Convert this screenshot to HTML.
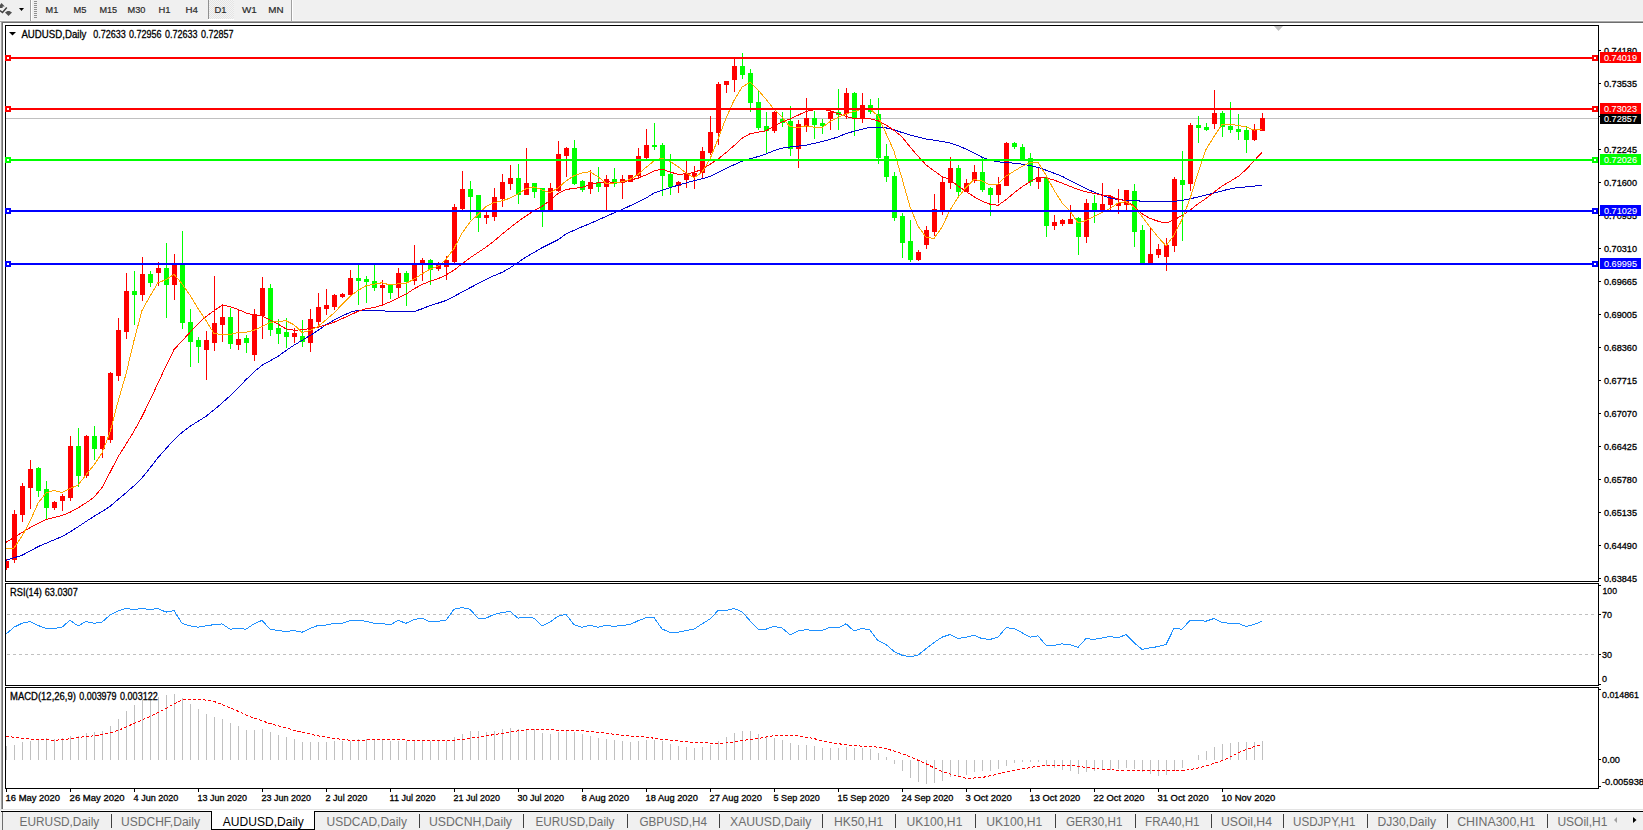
<!DOCTYPE html>
<html><head><meta charset="utf-8"><title>AUDUSD,Daily</title>
<style>
html,body{margin:0;padding:0;background:#fff;width:1643px;height:830px;overflow:hidden;}
svg{display:block;font-family:"Liberation Sans", sans-serif;}
</style></head><body>
<svg width="1643" height="830" viewBox="0 0 1643 830">
<rect x="0" y="0" width="1643" height="830" fill="#ffffff"/>
<rect x="0" y="0" width="1643" height="20" fill="#f0f0f0"/>
<rect x="0" y="20" width="1643" height="1" fill="#f8f8f8"/>
<rect x="0" y="21" width="1643" height="1" fill="#a8a8a8"/>
<rect x="0" y="22" width="1643" height="1" fill="#6e6e6e"/>
<rect x="0" y="22" width="2" height="790" fill="#f0f0f0"/>
<rect x="1" y="22" width="1" height="788" fill="#a0a0a0"/>
<rect x="2" y="22" width="1" height="788" fill="#6e6e6e"/>
<path d="M0 5 L1.5 2.9 L4.8 6.4 L2.6 6.4 L2.6 8 L0 8 Z" fill="#505050"/>
<path d="M0 10.5 L2.5 12.5 L6.8 7.5" stroke="#404040" stroke-width="1.5" fill="none"/>
<path d="M7.5 11 L9.5 11 L12 12.5 L8.5 16 L5 12.5 Z" fill="#505050"/>
<path d="M19 8 L24 8 L21.5 11 Z" fill="#000"/>
<rect x="30" y="0" width="1" height="21" fill="#a0a0a0"/>
<rect x="31" y="0" width="1" height="21" fill="#ffffff"/>
<rect x="34" y="1" width="3" height="1" fill="#909090"/>
<rect x="34" y="3" width="3" height="1" fill="#909090"/>
<rect x="34" y="5" width="3" height="1" fill="#909090"/>
<rect x="34" y="7" width="3" height="1" fill="#909090"/>
<rect x="34" y="9" width="3" height="1" fill="#909090"/>
<rect x="34" y="11" width="3" height="1" fill="#909090"/>
<rect x="34" y="13" width="3" height="1" fill="#909090"/>
<rect x="34" y="15" width="3" height="1" fill="#909090"/>
<rect x="34" y="17" width="3" height="1" fill="#909090"/>
<defs><pattern id="chk" width="2" height="2" patternUnits="userSpaceOnUse"><rect width="2" height="2" fill="#f4f4f4"/><rect width="1" height="1" fill="#e4e4e4"/><rect x="1" y="1" width="1" height="1" fill="#e4e4e4"/></pattern></defs>
<rect x="209" y="0" width="25" height="19" fill="url(#chk)"/>
<rect x="208" y="0" width="1" height="19" fill="#909090"/>
<rect x="208" y="19" width="26" height="1" fill="#ffffff"/>
<rect x="291" y="0" width="1" height="21" fill="#a0a0a0"/>
<rect x="292" y="0" width="1" height="21" fill="#ffffff"/>
<text x="45.6" y="13" font-size="9.4" fill="#2a2a2a" stroke="#2a2a2a" stroke-width="0.2" textLength="12.7" lengthAdjust="spacingAndGlyphs" >M1</text>
<text x="73.5" y="13" font-size="9.4" fill="#2a2a2a" stroke="#2a2a2a" stroke-width="0.2" textLength="12.9" lengthAdjust="spacingAndGlyphs" >M5</text>
<text x="99.4" y="13" font-size="9.4" fill="#2a2a2a" stroke="#2a2a2a" stroke-width="0.2" textLength="17.7" lengthAdjust="spacingAndGlyphs" >M15</text>
<text x="127.5" y="13" font-size="9.4" fill="#2a2a2a" stroke="#2a2a2a" stroke-width="0.2" textLength="17.9" lengthAdjust="spacingAndGlyphs" >M30</text>
<text x="158.5" y="13" font-size="9.4" fill="#2a2a2a" stroke="#2a2a2a" stroke-width="0.2" textLength="12" lengthAdjust="spacingAndGlyphs" >H1</text>
<text x="185.6" y="13" font-size="9.4" fill="#2a2a2a" stroke="#2a2a2a" stroke-width="0.2" textLength="12.4" lengthAdjust="spacingAndGlyphs" >H4</text>
<text x="214.4" y="13" font-size="9.4" fill="#2a2a2a" stroke="#2a2a2a" stroke-width="0.2" textLength="12" lengthAdjust="spacingAndGlyphs" >D1</text>
<text x="242" y="13" font-size="9.4" fill="#2a2a2a" stroke="#2a2a2a" stroke-width="0.2" textLength="14.8" lengthAdjust="spacingAndGlyphs" >W1</text>
<text x="268.3" y="13" font-size="9.4" fill="#2a2a2a" stroke="#2a2a2a" stroke-width="0.2" textLength="15.3" lengthAdjust="spacingAndGlyphs" >MN</text>
<rect x="5" y="25" width="1594" height="1" fill="#000000"/>
<rect x="5" y="25" width="1" height="557" fill="#000000"/>
<rect x="1598" y="25" width="1" height="557" fill="#000000"/>
<rect x="5" y="581" width="1594" height="1" fill="#000000"/>
<rect x="5" y="583" width="1594" height="1" fill="#000000"/>
<rect x="5" y="583" width="1" height="103" fill="#000000"/>
<rect x="1598" y="583" width="1" height="103" fill="#000000"/>
<rect x="5" y="685" width="1594" height="1" fill="#000000"/>
<rect x="5" y="687" width="1594" height="1" fill="#000000"/>
<rect x="5" y="687" width="1" height="102" fill="#000000"/>
<rect x="1598" y="687" width="1" height="102" fill="#000000"/>
<rect x="5" y="788" width="1594" height="1" fill="#000000"/>
<path d="M1274 26 L1283 26 L1278.5 31 Z" fill="#c0c0c0"/>
<rect x="6" y="118" width="1592" height="1" fill="#c0c0c0"/>
<g shape-rendering="crispEdges">
<rect x="6" y="559" width="1" height="11" fill="#ff0000"/>
<rect x="6" y="561" width="3" height="7" fill="#ff0000"/>
<rect x="14" y="510" width="1" height="53" fill="#ff0000"/>
<rect x="12" y="514" width="5" height="46" fill="#ff0000"/>
<rect x="22" y="483" width="1" height="39" fill="#ff0000"/>
<rect x="20" y="486" width="5" height="29" fill="#ff0000"/>
<rect x="30" y="460" width="1" height="49" fill="#ff0000"/>
<rect x="28" y="469" width="5" height="19" fill="#ff0000"/>
<rect x="38" y="467" width="1" height="30" fill="#00ff00"/>
<rect x="36" y="468" width="5" height="23" fill="#00ff00"/>
<rect x="46" y="481" width="1" height="38" fill="#00ff00"/>
<rect x="44" y="489" width="5" height="19" fill="#00ff00"/>
<rect x="54" y="501" width="1" height="9" fill="#ff0000"/>
<rect x="52" y="502" width="5" height="6" fill="#ff0000"/>
<rect x="62" y="494" width="1" height="17" fill="#ff0000"/>
<rect x="60" y="496" width="5" height="5" fill="#ff0000"/>
<rect x="70" y="436" width="1" height="65" fill="#ff0000"/>
<rect x="68" y="446" width="5" height="52" fill="#ff0000"/>
<rect x="78" y="428" width="1" height="59" fill="#00ff00"/>
<rect x="76" y="446" width="5" height="30" fill="#00ff00"/>
<rect x="86" y="435" width="1" height="43" fill="#ff0000"/>
<rect x="84" y="436" width="5" height="40" fill="#ff0000"/>
<rect x="94" y="426" width="1" height="34" fill="#00ff00"/>
<rect x="92" y="436" width="5" height="13" fill="#00ff00"/>
<rect x="102" y="436" width="1" height="22" fill="#ff0000"/>
<rect x="100" y="436" width="5" height="13" fill="#ff0000"/>
<rect x="110" y="372" width="1" height="71" fill="#ff0000"/>
<rect x="108" y="373" width="5" height="67" fill="#ff0000"/>
<rect x="118" y="318" width="1" height="63" fill="#ff0000"/>
<rect x="116" y="330" width="5" height="46" fill="#ff0000"/>
<rect x="126" y="273" width="1" height="66" fill="#ff0000"/>
<rect x="124" y="291" width="5" height="41" fill="#ff0000"/>
<rect x="134" y="271" width="1" height="54" fill="#00ff00"/>
<rect x="132" y="291" width="5" height="4" fill="#00ff00"/>
<rect x="142" y="257" width="1" height="44" fill="#ff0000"/>
<rect x="140" y="274" width="5" height="21" fill="#ff0000"/>
<rect x="150" y="271" width="1" height="16" fill="#00ff00"/>
<rect x="148" y="274" width="5" height="9" fill="#00ff00"/>
<rect x="158" y="262" width="1" height="24" fill="#ff0000"/>
<rect x="156" y="268" width="5" height="5" fill="#ff0000"/>
<rect x="166" y="243" width="1" height="75" fill="#00ff00"/>
<rect x="164" y="268" width="5" height="17" fill="#00ff00"/>
<rect x="174" y="254" width="1" height="46" fill="#ff0000"/>
<rect x="172" y="265" width="5" height="20" fill="#ff0000"/>
<rect x="182" y="231" width="1" height="98" fill="#00ff00"/>
<rect x="180" y="265" width="5" height="58" fill="#00ff00"/>
<rect x="190" y="309" width="1" height="58" fill="#00ff00"/>
<rect x="188" y="322" width="5" height="20" fill="#00ff00"/>
<rect x="198" y="337" width="1" height="26" fill="#00ff00"/>
<rect x="196" y="340" width="5" height="7" fill="#00ff00"/>
<rect x="206" y="331" width="1" height="49" fill="#ff0000"/>
<rect x="204" y="340" width="5" height="10" fill="#ff0000"/>
<rect x="214" y="276" width="1" height="75" fill="#ff0000"/>
<rect x="212" y="323" width="5" height="20" fill="#ff0000"/>
<rect x="222" y="304" width="1" height="38" fill="#ff0000"/>
<rect x="220" y="317" width="5" height="8" fill="#ff0000"/>
<rect x="230" y="308" width="1" height="41" fill="#00ff00"/>
<rect x="228" y="317" width="5" height="27" fill="#00ff00"/>
<rect x="238" y="309" width="1" height="41" fill="#ff0000"/>
<rect x="236" y="339" width="5" height="6" fill="#ff0000"/>
<rect x="246" y="335" width="1" height="18" fill="#00ff00"/>
<rect x="244" y="338" width="5" height="5" fill="#00ff00"/>
<rect x="254" y="309" width="1" height="52" fill="#ff0000"/>
<rect x="252" y="314" width="5" height="41" fill="#ff0000"/>
<rect x="262" y="277" width="1" height="62" fill="#ff0000"/>
<rect x="260" y="288" width="5" height="28" fill="#ff0000"/>
<rect x="270" y="284" width="1" height="52" fill="#00ff00"/>
<rect x="268" y="288" width="5" height="42" fill="#00ff00"/>
<rect x="278" y="319" width="1" height="25" fill="#00ff00"/>
<rect x="276" y="328" width="5" height="6" fill="#00ff00"/>
<rect x="286" y="318" width="1" height="30" fill="#00ff00"/>
<rect x="284" y="332" width="5" height="5" fill="#00ff00"/>
<rect x="294" y="328" width="1" height="15" fill="#ff0000"/>
<rect x="292" y="333" width="5" height="4" fill="#ff0000"/>
<rect x="302" y="320" width="1" height="27" fill="#00ff00"/>
<rect x="300" y="336" width="5" height="6" fill="#00ff00"/>
<rect x="310" y="309" width="1" height="43" fill="#ff0000"/>
<rect x="308" y="319" width="5" height="24" fill="#ff0000"/>
<rect x="318" y="293" width="1" height="35" fill="#ff0000"/>
<rect x="316" y="307" width="5" height="15" fill="#ff0000"/>
<rect x="326" y="289" width="1" height="26" fill="#ff0000"/>
<rect x="324" y="305" width="5" height="4" fill="#ff0000"/>
<rect x="334" y="294" width="1" height="16" fill="#ff0000"/>
<rect x="332" y="295" width="5" height="12" fill="#ff0000"/>
<rect x="342" y="293" width="1" height="5" fill="#ff0000"/>
<rect x="340" y="294" width="5" height="3" fill="#ff0000"/>
<rect x="350" y="270" width="1" height="26" fill="#ff0000"/>
<rect x="348" y="278" width="5" height="17" fill="#ff0000"/>
<rect x="358" y="265" width="1" height="40" fill="#00ff00"/>
<rect x="356" y="278" width="5" height="3" fill="#00ff00"/>
<rect x="366" y="276" width="1" height="27" fill="#00ff00"/>
<rect x="364" y="279" width="5" height="3" fill="#00ff00"/>
<rect x="374" y="265" width="1" height="26" fill="#00ff00"/>
<rect x="372" y="281" width="5" height="7" fill="#00ff00"/>
<rect x="382" y="280" width="1" height="25" fill="#ff0000"/>
<rect x="380" y="285" width="5" height="3" fill="#ff0000"/>
<rect x="390" y="284" width="1" height="15" fill="#00ff00"/>
<rect x="388" y="285" width="5" height="8" fill="#00ff00"/>
<rect x="398" y="268" width="1" height="29" fill="#ff0000"/>
<rect x="396" y="273" width="5" height="15" fill="#ff0000"/>
<rect x="406" y="271" width="1" height="35" fill="#00ff00"/>
<rect x="404" y="273" width="5" height="9" fill="#00ff00"/>
<rect x="414" y="245" width="1" height="40" fill="#ff0000"/>
<rect x="412" y="265" width="5" height="16" fill="#ff0000"/>
<rect x="422" y="258" width="1" height="23" fill="#ff0000"/>
<rect x="420" y="260" width="5" height="5" fill="#ff0000"/>
<rect x="430" y="259" width="1" height="26" fill="#00ff00"/>
<rect x="428" y="260" width="5" height="10" fill="#00ff00"/>
<rect x="438" y="262" width="1" height="9" fill="#ff0000"/>
<rect x="436" y="265" width="5" height="4" fill="#ff0000"/>
<rect x="446" y="256" width="1" height="24" fill="#ff0000"/>
<rect x="444" y="260" width="5" height="7" fill="#ff0000"/>
<rect x="454" y="204" width="1" height="60" fill="#ff0000"/>
<rect x="452" y="207" width="5" height="55" fill="#ff0000"/>
<rect x="462" y="171" width="1" height="39" fill="#ff0000"/>
<rect x="460" y="189" width="5" height="20" fill="#ff0000"/>
<rect x="470" y="181" width="1" height="39" fill="#00ff00"/>
<rect x="468" y="189" width="5" height="8" fill="#00ff00"/>
<rect x="478" y="195" width="1" height="37" fill="#00ff00"/>
<rect x="476" y="195" width="5" height="23" fill="#00ff00"/>
<rect x="486" y="212" width="1" height="12" fill="#ff0000"/>
<rect x="484" y="215" width="5" height="3" fill="#ff0000"/>
<rect x="494" y="188" width="1" height="33" fill="#ff0000"/>
<rect x="492" y="197" width="5" height="20" fill="#ff0000"/>
<rect x="502" y="174" width="1" height="33" fill="#ff0000"/>
<rect x="500" y="182" width="5" height="17" fill="#ff0000"/>
<rect x="510" y="165" width="1" height="25" fill="#ff0000"/>
<rect x="508" y="178" width="5" height="6" fill="#ff0000"/>
<rect x="518" y="164" width="1" height="40" fill="#00ff00"/>
<rect x="516" y="178" width="5" height="17" fill="#00ff00"/>
<rect x="526" y="148" width="1" height="47" fill="#ff0000"/>
<rect x="524" y="183" width="5" height="12" fill="#ff0000"/>
<rect x="534" y="183" width="1" height="15" fill="#00ff00"/>
<rect x="532" y="183" width="5" height="9" fill="#00ff00"/>
<rect x="542" y="188" width="1" height="39" fill="#00ff00"/>
<rect x="540" y="188" width="5" height="23" fill="#00ff00"/>
<rect x="550" y="183" width="1" height="28" fill="#ff0000"/>
<rect x="548" y="188" width="5" height="23" fill="#ff0000"/>
<rect x="558" y="141" width="1" height="51" fill="#ff0000"/>
<rect x="556" y="154" width="5" height="37" fill="#ff0000"/>
<rect x="566" y="147" width="1" height="30" fill="#ff0000"/>
<rect x="564" y="148" width="5" height="8" fill="#ff0000"/>
<rect x="574" y="140" width="1" height="45" fill="#00ff00"/>
<rect x="572" y="148" width="5" height="36" fill="#00ff00"/>
<rect x="582" y="180" width="1" height="12" fill="#00ff00"/>
<rect x="580" y="181" width="5" height="9" fill="#00ff00"/>
<rect x="590" y="170" width="1" height="24" fill="#ff0000"/>
<rect x="588" y="182" width="5" height="7" fill="#ff0000"/>
<rect x="598" y="167" width="1" height="25" fill="#00ff00"/>
<rect x="596" y="182" width="5" height="5" fill="#00ff00"/>
<rect x="606" y="175" width="1" height="35" fill="#ff0000"/>
<rect x="604" y="179" width="5" height="8" fill="#ff0000"/>
<rect x="614" y="168" width="1" height="19" fill="#00ff00"/>
<rect x="612" y="179" width="5" height="5" fill="#00ff00"/>
<rect x="622" y="175" width="1" height="24" fill="#ff0000"/>
<rect x="620" y="179" width="5" height="4" fill="#ff0000"/>
<rect x="630" y="175" width="1" height="7" fill="#ff0000"/>
<rect x="628" y="175" width="5" height="7" fill="#ff0000"/>
<rect x="638" y="148" width="1" height="31" fill="#ff0000"/>
<rect x="636" y="156" width="5" height="20" fill="#ff0000"/>
<rect x="646" y="129" width="1" height="31" fill="#ff0000"/>
<rect x="644" y="145" width="5" height="13" fill="#ff0000"/>
<rect x="654" y="123" width="1" height="27" fill="#00ff00"/>
<rect x="652" y="145" width="5" height="2" fill="#00ff00"/>
<rect x="662" y="143" width="1" height="53" fill="#00ff00"/>
<rect x="660" y="145" width="5" height="31" fill="#00ff00"/>
<rect x="670" y="154" width="1" height="41" fill="#00ff00"/>
<rect x="668" y="174" width="5" height="13" fill="#00ff00"/>
<rect x="678" y="181" width="1" height="12" fill="#ff0000"/>
<rect x="676" y="182" width="5" height="4" fill="#ff0000"/>
<rect x="686" y="161" width="1" height="27" fill="#ff0000"/>
<rect x="684" y="174" width="5" height="6" fill="#ff0000"/>
<rect x="694" y="166" width="1" height="23" fill="#ff0000"/>
<rect x="692" y="173" width="5" height="4" fill="#ff0000"/>
<rect x="702" y="147" width="1" height="31" fill="#ff0000"/>
<rect x="700" y="151" width="5" height="22" fill="#ff0000"/>
<rect x="710" y="116" width="1" height="39" fill="#ff0000"/>
<rect x="708" y="132" width="5" height="21" fill="#ff0000"/>
<rect x="718" y="82" width="1" height="63" fill="#ff0000"/>
<rect x="716" y="84" width="5" height="49" fill="#ff0000"/>
<rect x="726" y="81" width="1" height="12" fill="#ff0000"/>
<rect x="724" y="81" width="5" height="4" fill="#ff0000"/>
<rect x="734" y="59" width="1" height="33" fill="#ff0000"/>
<rect x="732" y="66" width="5" height="14" fill="#ff0000"/>
<rect x="742" y="53" width="1" height="26" fill="#00ff00"/>
<rect x="740" y="66" width="5" height="9" fill="#00ff00"/>
<rect x="750" y="69" width="1" height="43" fill="#00ff00"/>
<rect x="748" y="73" width="5" height="30" fill="#00ff00"/>
<rect x="758" y="91" width="1" height="39" fill="#00ff00"/>
<rect x="756" y="102" width="5" height="26" fill="#00ff00"/>
<rect x="766" y="112" width="1" height="41" fill="#00ff00"/>
<rect x="764" y="126" width="5" height="5" fill="#00ff00"/>
<rect x="774" y="111" width="1" height="22" fill="#ff0000"/>
<rect x="772" y="112" width="5" height="19" fill="#ff0000"/>
<rect x="782" y="112" width="1" height="15" fill="#00ff00"/>
<rect x="780" y="119" width="5" height="4" fill="#00ff00"/>
<rect x="790" y="106" width="1" height="50" fill="#00ff00"/>
<rect x="788" y="121" width="5" height="28" fill="#00ff00"/>
<rect x="798" y="120" width="1" height="48" fill="#ff0000"/>
<rect x="796" y="124" width="5" height="25" fill="#ff0000"/>
<rect x="806" y="98" width="1" height="34" fill="#ff0000"/>
<rect x="804" y="118" width="5" height="8" fill="#ff0000"/>
<rect x="814" y="111" width="1" height="28" fill="#00ff00"/>
<rect x="812" y="118" width="5" height="7" fill="#00ff00"/>
<rect x="822" y="119" width="1" height="15" fill="#00ff00"/>
<rect x="820" y="123" width="5" height="3" fill="#00ff00"/>
<rect x="830" y="110" width="1" height="20" fill="#ff0000"/>
<rect x="828" y="112" width="5" height="7" fill="#ff0000"/>
<rect x="838" y="89" width="1" height="41" fill="#00ff00"/>
<rect x="836" y="112" width="5" height="3" fill="#00ff00"/>
<rect x="846" y="88" width="1" height="31" fill="#ff0000"/>
<rect x="844" y="93" width="5" height="21" fill="#ff0000"/>
<rect x="854" y="92" width="1" height="44" fill="#00ff00"/>
<rect x="852" y="93" width="5" height="26" fill="#00ff00"/>
<rect x="862" y="93" width="1" height="30" fill="#ff0000"/>
<rect x="860" y="105" width="5" height="14" fill="#ff0000"/>
<rect x="870" y="99" width="1" height="15" fill="#00ff00"/>
<rect x="868" y="105" width="5" height="7" fill="#00ff00"/>
<rect x="878" y="98" width="1" height="66" fill="#00ff00"/>
<rect x="876" y="114" width="5" height="44" fill="#00ff00"/>
<rect x="886" y="144" width="1" height="38" fill="#00ff00"/>
<rect x="884" y="156" width="5" height="21" fill="#00ff00"/>
<rect x="894" y="172" width="1" height="49" fill="#00ff00"/>
<rect x="892" y="176" width="5" height="42" fill="#00ff00"/>
<rect x="902" y="213" width="1" height="45" fill="#00ff00"/>
<rect x="900" y="216" width="5" height="27" fill="#00ff00"/>
<rect x="910" y="220" width="1" height="42" fill="#00ff00"/>
<rect x="908" y="241" width="5" height="19" fill="#00ff00"/>
<rect x="918" y="250" width="1" height="11" fill="#ff0000"/>
<rect x="916" y="252" width="5" height="8" fill="#ff0000"/>
<rect x="926" y="226" width="1" height="23" fill="#ff0000"/>
<rect x="924" y="230" width="5" height="15" fill="#ff0000"/>
<rect x="934" y="194" width="1" height="42" fill="#ff0000"/>
<rect x="932" y="209" width="5" height="23" fill="#ff0000"/>
<rect x="942" y="177" width="1" height="38" fill="#ff0000"/>
<rect x="940" y="182" width="5" height="30" fill="#ff0000"/>
<rect x="950" y="157" width="1" height="32" fill="#ff0000"/>
<rect x="948" y="168" width="5" height="15" fill="#ff0000"/>
<rect x="958" y="165" width="1" height="33" fill="#00ff00"/>
<rect x="956" y="168" width="5" height="24" fill="#00ff00"/>
<rect x="966" y="179" width="1" height="13" fill="#ff0000"/>
<rect x="964" y="183" width="5" height="9" fill="#ff0000"/>
<rect x="974" y="165" width="1" height="18" fill="#ff0000"/>
<rect x="972" y="172" width="5" height="9" fill="#ff0000"/>
<rect x="982" y="158" width="1" height="34" fill="#00ff00"/>
<rect x="980" y="172" width="5" height="18" fill="#00ff00"/>
<rect x="990" y="187" width="1" height="29" fill="#00ff00"/>
<rect x="988" y="188" width="5" height="7" fill="#00ff00"/>
<rect x="998" y="177" width="1" height="26" fill="#ff0000"/>
<rect x="996" y="184" width="5" height="11" fill="#ff0000"/>
<rect x="1006" y="142" width="1" height="44" fill="#ff0000"/>
<rect x="1004" y="143" width="5" height="43" fill="#ff0000"/>
<rect x="1014" y="142" width="1" height="7" fill="#00ff00"/>
<rect x="1012" y="143" width="5" height="4" fill="#00ff00"/>
<rect x="1022" y="144" width="1" height="17" fill="#00ff00"/>
<rect x="1020" y="147" width="5" height="13" fill="#00ff00"/>
<rect x="1030" y="153" width="1" height="33" fill="#00ff00"/>
<rect x="1028" y="158" width="5" height="24" fill="#00ff00"/>
<rect x="1038" y="168" width="1" height="21" fill="#ff0000"/>
<rect x="1036" y="177" width="5" height="5" fill="#ff0000"/>
<rect x="1046" y="177" width="1" height="60" fill="#00ff00"/>
<rect x="1044" y="178" width="5" height="48" fill="#00ff00"/>
<rect x="1054" y="215" width="1" height="15" fill="#ff0000"/>
<rect x="1052" y="222" width="5" height="4" fill="#ff0000"/>
<rect x="1062" y="219" width="1" height="7" fill="#ff0000"/>
<rect x="1060" y="220" width="5" height="4" fill="#ff0000"/>
<rect x="1070" y="205" width="1" height="19" fill="#ff0000"/>
<rect x="1068" y="219" width="5" height="5" fill="#ff0000"/>
<rect x="1078" y="217" width="1" height="38" fill="#00ff00"/>
<rect x="1076" y="218" width="5" height="19" fill="#00ff00"/>
<rect x="1086" y="199" width="1" height="44" fill="#ff0000"/>
<rect x="1084" y="203" width="5" height="34" fill="#ff0000"/>
<rect x="1094" y="195" width="1" height="28" fill="#00ff00"/>
<rect x="1092" y="203" width="5" height="8" fill="#00ff00"/>
<rect x="1102" y="183" width="1" height="30" fill="#ff0000"/>
<rect x="1100" y="204" width="5" height="8" fill="#ff0000"/>
<rect x="1110" y="195" width="1" height="15" fill="#ff0000"/>
<rect x="1108" y="196" width="5" height="9" fill="#ff0000"/>
<rect x="1118" y="189" width="1" height="25" fill="#ff0000"/>
<rect x="1116" y="203" width="5" height="3" fill="#ff0000"/>
<rect x="1126" y="190" width="1" height="21" fill="#ff0000"/>
<rect x="1124" y="190" width="5" height="15" fill="#ff0000"/>
<rect x="1134" y="184" width="1" height="63" fill="#00ff00"/>
<rect x="1132" y="191" width="5" height="41" fill="#00ff00"/>
<rect x="1142" y="225" width="1" height="39" fill="#00ff00"/>
<rect x="1140" y="230" width="5" height="33" fill="#00ff00"/>
<rect x="1150" y="227" width="1" height="37" fill="#ff0000"/>
<rect x="1148" y="254" width="5" height="9" fill="#ff0000"/>
<rect x="1158" y="244" width="1" height="14" fill="#ff0000"/>
<rect x="1156" y="249" width="5" height="6" fill="#ff0000"/>
<rect x="1166" y="238" width="1" height="33" fill="#ff0000"/>
<rect x="1164" y="245" width="5" height="12" fill="#ff0000"/>
<rect x="1174" y="177" width="1" height="75" fill="#ff0000"/>
<rect x="1172" y="179" width="5" height="67" fill="#ff0000"/>
<rect x="1182" y="151" width="1" height="90" fill="#00ff00"/>
<rect x="1180" y="180" width="5" height="5" fill="#00ff00"/>
<rect x="1190" y="123" width="1" height="68" fill="#ff0000"/>
<rect x="1188" y="125" width="5" height="59" fill="#ff0000"/>
<rect x="1198" y="116" width="1" height="27" fill="#00ff00"/>
<rect x="1196" y="125" width="5" height="3" fill="#00ff00"/>
<rect x="1206" y="123" width="1" height="8" fill="#00ff00"/>
<rect x="1204" y="127" width="5" height="3" fill="#00ff00"/>
<rect x="1214" y="90" width="1" height="39" fill="#ff0000"/>
<rect x="1212" y="113" width="5" height="11" fill="#ff0000"/>
<rect x="1222" y="111" width="1" height="26" fill="#00ff00"/>
<rect x="1220" y="113" width="5" height="14" fill="#00ff00"/>
<rect x="1230" y="102" width="1" height="31" fill="#00ff00"/>
<rect x="1228" y="126" width="5" height="4" fill="#00ff00"/>
<rect x="1238" y="114" width="1" height="26" fill="#00ff00"/>
<rect x="1236" y="129" width="5" height="3" fill="#00ff00"/>
<rect x="1246" y="126" width="1" height="27" fill="#00ff00"/>
<rect x="1244" y="130" width="5" height="10" fill="#00ff00"/>
<rect x="1254" y="124" width="1" height="17" fill="#ff0000"/>
<rect x="1252" y="129" width="5" height="11" fill="#ff0000"/>
<rect x="1262" y="113" width="1" height="18" fill="#ff0000"/>
<rect x="1260" y="118" width="5" height="13" fill="#ff0000"/>
</g>
<svg x="6" y="26" width="1592" height="555" viewBox="6 26 1592 555" overflow="hidden">
<polyline points="6.0,560.4 14.0,557.8 22.0,555.3 30.0,551.1 38.0,546.7 46.0,543.3 54.0,539.9 62.0,536.5 70.0,532.0 78.0,526.8 86.0,521.5 94.0,516.4 102.0,511.5 110.0,506.5 118.0,499.5 126.0,492.8 134.0,485.8 142.0,477.9 150.0,468.0 158.0,457.6 166.0,448.6 174.0,439.8 182.0,432.4 190.0,426.3 198.0,421.3 206.0,416.3 214.0,409.8 222.0,403.1 230.0,395.9 238.0,387.8 246.0,379.7 254.0,371.9 262.0,365.3 270.0,360.9 278.0,356.3 286.0,350.6 294.0,345.2 302.0,340.4 310.0,335.6 318.0,330.4 326.0,324.7 334.0,320.2 342.0,316.0 350.0,312.4 358.0,310.0 366.0,310.0 374.0,310.0 382.0,310.7 390.0,311.6 398.0,311.6 406.0,311.6 414.0,311.6 422.0,308.8 430.0,305.6 438.0,303.2 446.0,300.5 454.0,296.4 462.0,292.1 470.0,287.8 478.0,283.6 486.0,279.5 494.0,275.7 502.0,272.4 510.0,267.8 518.0,262.5 526.0,257.0 534.0,252.4 542.0,247.8 550.0,243.8 558.0,239.8 566.0,233.9 574.0,230.3 582.0,226.8 590.0,223.6 598.0,220.0 606.0,216.4 614.0,212.9 622.0,209.6 630.0,205.8 638.0,202.1 646.0,198.2 654.0,193.0 662.0,190.3 670.0,187.8 678.0,185.2 686.0,182.9 694.0,180.8 702.0,178.8 710.0,176.4 718.0,172.4 726.0,168.4 734.0,164.8 742.0,161.2 750.0,158.8 758.0,156.6 766.0,153.9 774.0,150.7 782.0,148.2 790.0,147.0 798.0,146.1 806.0,145.3 814.0,143.4 822.0,141.5 830.0,139.4 838.0,136.9 846.0,133.6 854.0,131.3 862.0,129.3 870.0,127.4 878.0,127.1 886.0,127.9 894.0,129.8 902.0,132.5 910.0,135.0 918.0,137.0 926.0,139.0 934.0,140.2 942.0,141.4 950.0,143.1 958.0,145.7 966.0,149.0 974.0,153.0 982.0,157.2 990.0,160.1 998.0,161.8 1006.0,162.7 1014.0,163.1 1022.0,164.1 1030.0,165.6 1038.0,167.4 1046.0,170.2 1054.0,173.2 1062.0,176.3 1070.0,180.4 1078.0,184.5 1086.0,188.5 1094.0,192.1 1102.0,195.2 1110.0,197.9 1118.0,199.7 1126.0,200.2 1134.0,200.6 1142.0,201.2 1150.0,201.7 1158.0,201.8 1166.0,201.9 1174.0,201.3 1182.0,200.4 1190.0,198.8 1198.0,197.0 1206.0,195.0 1214.0,193.0 1222.0,190.9 1230.0,188.9 1238.0,187.5 1246.0,186.9 1254.0,186.1 1262.0,185.2" fill="none" stroke="#0000cd" stroke-width="1" shape-rendering="crispEdges"/>
<polyline points="6.0,542.4 14.0,537.4 22.0,532.4 30.0,527.7 38.0,523.6 46.0,519.5 54.0,517.5 62.0,515.5 70.0,512.3 78.0,507.9 86.0,502.9 94.0,497.3 102.0,487.6 110.0,472.5 118.0,456.9 126.0,444.3 134.0,431.2 142.0,416.6 150.0,400.2 158.0,383.1 166.0,366.0 174.0,349.6 182.0,341.0 190.0,332.3 198.0,323.8 206.0,316.5 214.0,310.8 222.0,305.3 230.0,306.5 238.0,309.4 246.0,312.9 254.0,315.1 262.0,316.0 270.0,319.9 278.0,324.1 286.0,328.9 294.0,330.2 302.0,329.8 310.0,328.6 318.0,327.0 326.0,324.9 334.0,322.2 342.0,318.7 350.0,315.1 358.0,311.3 366.0,308.8 374.0,307.5 382.0,305.2 390.0,301.9 398.0,298.1 406.0,294.2 414.0,288.9 422.0,284.5 430.0,281.3 438.0,278.7 446.0,275.0 454.0,270.1 462.0,263.9 470.0,257.8 478.0,252.5 486.0,247.2 494.0,241.1 502.0,234.2 510.0,227.8 518.0,221.6 526.0,215.9 534.0,210.8 542.0,206.5 550.0,200.5 558.0,193.4 566.0,189.5 574.0,188.4 582.0,187.3 590.0,184.8 598.0,182.7 606.0,181.9 614.0,182.1 622.0,182.0 630.0,180.3 638.0,178.0 646.0,174.9 654.0,170.9 662.0,169.0 670.0,172.1 678.0,174.2 686.0,173.9 694.0,172.4 702.0,169.2 710.0,164.3 718.0,159.1 726.0,152.6 734.0,145.7 742.0,138.3 750.0,133.8 758.0,132.2 766.0,130.8 774.0,126.3 782.0,122.1 790.0,119.0 798.0,115.2 806.0,111.5 814.0,109.9 822.0,109.4 830.0,110.7 838.0,113.7 846.0,116.4 854.0,118.6 862.0,118.5 870.0,118.8 878.0,120.7 886.0,125.0 894.0,130.4 902.0,136.8 910.0,146.9 918.0,156.2 926.0,164.8 934.0,170.8 942.0,176.5 950.0,179.7 958.0,186.0 966.0,191.5 974.0,196.7 982.0,201.2 990.0,204.2 998.0,205.3 1006.0,199.7 1014.0,193.0 1022.0,186.8 1030.0,181.7 1038.0,177.5 1046.0,177.9 1054.0,180.0 1062.0,183.1 1070.0,186.3 1078.0,189.4 1086.0,191.8 1094.0,193.4 1102.0,195.2 1110.0,195.6 1118.0,199.2 1126.0,201.0 1134.0,205.8 1142.0,213.7 1150.0,218.4 1158.0,221.2 1166.0,223.1 1174.0,219.9 1182.0,215.6 1190.0,210.2 1198.0,203.9 1206.0,198.5 1214.0,192.2 1222.0,186.1 1230.0,181.4 1238.0,176.6 1246.0,169.7 1254.0,160.9 1262.0,152.3" fill="none" stroke="#ff0000" stroke-width="1" shape-rendering="crispEdges"/>
<polyline points="6.0,548.0 14.0,548.0 22.0,536.1 30.0,521.4 38.0,503.2 46.0,493.0 54.0,490.5 62.0,492.5 70.0,488.4 78.0,485.2 86.0,474.8 94.0,464.9 102.0,452.9 110.0,432.4 118.0,401.6 126.0,374.1 134.0,340.5 142.0,310.5 150.0,296.2 158.0,282.6 166.0,279.8 174.0,274.3 182.0,283.8 190.0,295.2 198.0,308.5 206.0,320.6 214.0,333.5 222.0,334.6 230.0,334.6 238.0,332.4 246.0,332.2 254.0,330.3 262.0,326.4 270.0,322.5 278.0,321.3 286.0,320.8 294.0,324.8 302.0,332.4 310.0,330.5 318.0,326.3 326.0,319.9 334.0,312.9 342.0,304.6 350.0,296.5 358.0,290.5 366.0,285.8 374.0,284.3 382.0,282.7 390.0,285.0 398.0,283.9 406.0,283.2 414.0,279.2 422.0,273.9 430.0,269.2 438.0,266.2 446.0,259.4 454.0,248.5 462.0,233.1 470.0,222.2 478.0,214.4 486.0,206.7 494.0,202.6 502.0,200.8 510.0,198.2 518.0,193.9 526.0,188.6 534.0,186.9 542.0,189.9 550.0,192.8 558.0,188.0 566.0,180.9 574.0,175.7 582.0,173.0 590.0,171.7 598.0,176.8 606.0,183.3 614.0,183.0 622.0,181.9 630.0,179.3 638.0,174.4 646.0,167.4 654.0,160.9 662.0,158.0 670.0,161.4 678.0,166.6 686.0,173.0 694.0,177.6 702.0,172.3 710.0,159.1 718.0,139.1 726.0,118.2 734.0,100.4 742.0,87.1 750.0,82.2 758.0,90.0 766.0,99.2 774.0,109.2 782.0,117.1 790.0,126.7 798.0,127.6 806.0,125.9 814.0,127.1 822.0,127.6 830.0,121.7 838.0,117.5 846.0,113.9 854.0,111.5 862.0,109.1 870.0,108.5 878.0,116.2 886.0,133.5 894.0,151.2 902.0,178.4 910.0,206.9 918.0,226.0 926.0,237.3 934.0,238.4 942.0,227.3 950.0,210.0 958.0,197.5 966.0,187.4 974.0,179.5 982.0,180.9 990.0,184.9 998.0,184.2 1006.0,176.1 1014.0,171.2 1022.0,166.4 1030.0,162.7 1038.0,162.4 1046.0,175.2 1054.0,190.1 1062.0,202.7 1070.0,210.9 1078.0,223.1 1086.0,220.5 1094.0,216.6 1102.0,212.6 1110.0,208.7 1118.0,202.9 1126.0,201.7 1134.0,206.9 1142.0,216.5 1150.0,227.0 1158.0,237.0 1166.0,245.8 1174.0,235.2 1182.0,219.5 1190.0,198.7 1198.0,172.7 1206.0,149.4 1214.0,136.6 1222.0,124.5 1230.0,124.2 1238.0,125.4 1246.0,127.0 1254.0,130.1 1262.0,129.4" fill="none" stroke="#ffa500" stroke-width="1" shape-rendering="crispEdges"/>
</svg>
<rect x="6" y="57" width="1592" height="2" fill="#ff0000"/>
<rect x="5" y="55" width="6" height="6" fill="#ff0000"/>
<rect x="7" y="57" width="2" height="2" fill="#ffffff"/>
<rect x="1592" y="55" width="6" height="6" fill="#ff0000"/>
<rect x="1594" y="57" width="2" height="2" fill="#ffffff"/>
<rect x="6" y="108" width="1592" height="2" fill="#ff0000"/>
<rect x="5" y="106" width="6" height="6" fill="#ff0000"/>
<rect x="7" y="108" width="2" height="2" fill="#ffffff"/>
<rect x="1592" y="106" width="6" height="6" fill="#ff0000"/>
<rect x="1594" y="108" width="2" height="2" fill="#ffffff"/>
<rect x="6" y="159" width="1592" height="2" fill="#00ff00"/>
<rect x="5" y="157" width="6" height="6" fill="#00ff00"/>
<rect x="7" y="159" width="2" height="2" fill="#ffffff"/>
<rect x="1592" y="157" width="6" height="6" fill="#00ff00"/>
<rect x="1594" y="159" width="2" height="2" fill="#ffffff"/>
<rect x="6" y="210" width="1592" height="2" fill="#0000ff"/>
<rect x="5" y="208" width="6" height="6" fill="#0000ff"/>
<rect x="7" y="210" width="2" height="2" fill="#ffffff"/>
<rect x="1592" y="208" width="6" height="6" fill="#0000ff"/>
<rect x="1594" y="210" width="2" height="2" fill="#ffffff"/>
<rect x="6" y="263" width="1592" height="2" fill="#0000ff"/>
<rect x="5" y="261" width="6" height="6" fill="#0000ff"/>
<rect x="7" y="263" width="2" height="2" fill="#ffffff"/>
<rect x="1592" y="261" width="6" height="6" fill="#0000ff"/>
<rect x="1594" y="263" width="2" height="2" fill="#ffffff"/>
<rect x="1599" y="50" width="2" height="1" fill="#000000"/>
<text x="1604" y="54" font-size="9.8" fill="#000" stroke="#000" stroke-width="0.3" textLength="33" lengthAdjust="spacingAndGlyphs" >0.74180</text>
<rect x="1599" y="83" width="2" height="1" fill="#000000"/>
<text x="1604" y="87" font-size="9.8" fill="#000" stroke="#000" stroke-width="0.3" textLength="33" lengthAdjust="spacingAndGlyphs" >0.73535</text>
<rect x="1599" y="116" width="2" height="1" fill="#000000"/>
<text x="1604" y="120" font-size="9.8" fill="#000" stroke="#000" stroke-width="0.3" textLength="33" lengthAdjust="spacingAndGlyphs" >0.72890</text>
<rect x="1599" y="149" width="2" height="1" fill="#000000"/>
<text x="1604" y="153" font-size="9.8" fill="#000" stroke="#000" stroke-width="0.3" textLength="33" lengthAdjust="spacingAndGlyphs" >0.72245</text>
<rect x="1599" y="182" width="2" height="1" fill="#000000"/>
<text x="1604" y="186" font-size="9.8" fill="#000" stroke="#000" stroke-width="0.3" textLength="33" lengthAdjust="spacingAndGlyphs" >0.71600</text>
<rect x="1599" y="215" width="2" height="1" fill="#000000"/>
<text x="1604" y="219" font-size="9.8" fill="#000" stroke="#000" stroke-width="0.3" textLength="33" lengthAdjust="spacingAndGlyphs" >0.70955</text>
<rect x="1599" y="248" width="2" height="1" fill="#000000"/>
<text x="1604" y="252" font-size="9.8" fill="#000" stroke="#000" stroke-width="0.3" textLength="33" lengthAdjust="spacingAndGlyphs" >0.70310</text>
<rect x="1599" y="281" width="2" height="1" fill="#000000"/>
<text x="1604" y="285" font-size="9.8" fill="#000" stroke="#000" stroke-width="0.3" textLength="33" lengthAdjust="spacingAndGlyphs" >0.69665</text>
<rect x="1599" y="314" width="2" height="1" fill="#000000"/>
<text x="1604" y="318" font-size="9.8" fill="#000" stroke="#000" stroke-width="0.3" textLength="33" lengthAdjust="spacingAndGlyphs" >0.69005</text>
<rect x="1599" y="347" width="2" height="1" fill="#000000"/>
<text x="1604" y="351" font-size="9.8" fill="#000" stroke="#000" stroke-width="0.3" textLength="33" lengthAdjust="spacingAndGlyphs" >0.68360</text>
<rect x="1599" y="380" width="2" height="1" fill="#000000"/>
<text x="1604" y="384" font-size="9.8" fill="#000" stroke="#000" stroke-width="0.3" textLength="33" lengthAdjust="spacingAndGlyphs" >0.67715</text>
<rect x="1599" y="413" width="2" height="1" fill="#000000"/>
<text x="1604" y="417" font-size="9.8" fill="#000" stroke="#000" stroke-width="0.3" textLength="33" lengthAdjust="spacingAndGlyphs" >0.67070</text>
<rect x="1599" y="446" width="2" height="1" fill="#000000"/>
<text x="1604" y="450" font-size="9.8" fill="#000" stroke="#000" stroke-width="0.3" textLength="33" lengthAdjust="spacingAndGlyphs" >0.66425</text>
<rect x="1599" y="479" width="2" height="1" fill="#000000"/>
<text x="1604" y="483" font-size="9.8" fill="#000" stroke="#000" stroke-width="0.3" textLength="33" lengthAdjust="spacingAndGlyphs" >0.65780</text>
<rect x="1599" y="512" width="2" height="1" fill="#000000"/>
<text x="1604" y="516" font-size="9.8" fill="#000" stroke="#000" stroke-width="0.3" textLength="33" lengthAdjust="spacingAndGlyphs" >0.65135</text>
<rect x="1599" y="545" width="2" height="1" fill="#000000"/>
<text x="1604" y="549" font-size="9.8" fill="#000" stroke="#000" stroke-width="0.3" textLength="33" lengthAdjust="spacingAndGlyphs" >0.64490</text>
<rect x="1599" y="578" width="2" height="1" fill="#000000"/>
<text x="1604" y="582" font-size="9.8" fill="#000" stroke="#000" stroke-width="0.3" textLength="33" lengthAdjust="spacingAndGlyphs" >0.63845</text>
<rect x="1600" y="113" width="41" height="11" fill="#000000"/>
<text x="1604" y="122" font-size="9.8" fill="#ffffff" stroke="#ffffff" stroke-width="0.1" textLength="33" lengthAdjust="spacingAndGlyphs" >0.72857</text>
<rect x="1600" y="52" width="41" height="11" fill="#ff0000"/>
<text x="1604" y="61" font-size="9.8" fill="#ffffff" stroke="#ffffff" stroke-width="0.1" textLength="33" lengthAdjust="spacingAndGlyphs" >0.74019</text>
<rect x="1600" y="103" width="41" height="11" fill="#ff0000"/>
<text x="1604" y="112" font-size="9.8" fill="#ffffff" stroke="#ffffff" stroke-width="0.1" textLength="33" lengthAdjust="spacingAndGlyphs" >0.73023</text>
<rect x="1600" y="154" width="41" height="11" fill="#00ff00"/>
<text x="1604" y="163" font-size="9.8" fill="#ffffff" stroke="#ffffff" stroke-width="0.1" textLength="33" lengthAdjust="spacingAndGlyphs" >0.72026</text>
<rect x="1600" y="205" width="41" height="11" fill="#0000ff"/>
<text x="1604" y="214" font-size="9.8" fill="#ffffff" stroke="#ffffff" stroke-width="0.1" textLength="33" lengthAdjust="spacingAndGlyphs" >0.71029</text>
<rect x="1600" y="258" width="41" height="11" fill="#0000ff"/>
<text x="1604" y="267" font-size="9.8" fill="#ffffff" stroke="#ffffff" stroke-width="0.1" textLength="33" lengthAdjust="spacingAndGlyphs" >0.69995</text>
<path d="M9 32 L16 32 L12.5 35.5 Z" fill="#000"/>
<text x="21.4" y="38" font-size="11" fill="#000" stroke="#000" stroke-width="0.3" textLength="65" lengthAdjust="spacingAndGlyphs" >AUDUSD,Daily</text>
<text x="93.2" y="38" font-size="11" fill="#000" stroke="#000" stroke-width="0.3" textLength="32.5" lengthAdjust="spacingAndGlyphs" >0.72633</text>
<text x="129" y="38" font-size="11" fill="#000" stroke="#000" stroke-width="0.3" textLength="32.5" lengthAdjust="spacingAndGlyphs" >0.72956</text>
<text x="165" y="38" font-size="11" fill="#000" stroke="#000" stroke-width="0.3" textLength="32.5" lengthAdjust="spacingAndGlyphs" >0.72633</text>
<text x="200.9" y="38" font-size="11" fill="#000" stroke="#000" stroke-width="0.3" textLength="32.5" lengthAdjust="spacingAndGlyphs" >0.72857</text>
<line x1="7" y1="614.5" x2="1597" y2="614.5" stroke="#c0c0c0" stroke-width="1" stroke-dasharray="3,3"/>
<line x1="7" y1="654.5" x2="1597" y2="654.5" stroke="#c0c0c0" stroke-width="1" stroke-dasharray="3,3"/>
<svg x="6" y="584" width="1592" height="101" viewBox="6 584 1592 101" overflow="hidden">
<polyline points="6.0,634.1 14.0,627.2 22.0,623.3 30.0,621.6 38.0,625.4 46.0,628.5 54.0,628.5 62.0,627.2 70.0,620.3 78.0,625.9 86.0,621.6 94.0,623.3 102.0,622.0 110.0,615.2 118.0,611.0 126.0,608.5 134.0,609.5 142.0,608.5 150.0,609.5 158.0,608.5 166.0,612.1 174.0,610.6 182.0,623.3 190.0,625.9 198.0,627.2 206.0,625.9 214.0,624.6 222.0,623.9 230.0,629.2 238.0,628.5 246.0,629.2 254.0,623.9 262.0,620.3 270.0,629.2 278.0,630.5 286.0,631.5 294.0,630.5 302.0,632.3 310.0,628.5 318.0,625.4 326.0,625.1 334.0,623.3 342.0,623.3 350.0,620.8 358.0,620.3 366.0,621.3 374.0,623.3 382.0,623.3 390.0,625.1 398.0,620.3 406.0,623.3 414.0,619.5 422.0,618.2 430.0,622.0 438.0,621.3 446.0,620.3 454.0,609.3 462.0,607.5 470.0,609.3 478.0,618.2 486.0,618.2 494.0,614.4 502.0,612.6 510.0,611.3 518.0,618.2 526.0,617.0 534.0,618.2 542.0,625.9 550.0,622.0 558.0,616.2 566.0,614.4 574.0,624.6 582.0,627.2 590.0,625.4 598.0,627.2 606.0,625.4 614.0,626.4 622.0,625.4 630.0,624.6 638.0,620.8 646.0,617.7 654.0,617.5 662.0,629.0 670.0,632.3 678.0,632.3 686.0,630.5 694.0,629.2 702.0,623.9 710.0,619.0 718.0,610.6 726.0,610.6 734.0,608.5 742.0,611.8 750.0,620.8 758.0,629.2 766.0,629.2 774.0,626.4 782.0,628.0 790.0,634.8 798.0,631.0 806.0,629.7 814.0,630.5 822.0,630.5 830.0,627.2 838.0,628.0 846.0,623.8 854.0,631.0 862.0,628.4 870.0,630.0 878.0,640.7 886.0,644.5 894.0,651.4 902.0,655.2 910.0,656.8 918.0,655.2 926.0,648.7 934.0,642.6 942.0,637.2 950.0,634.5 958.0,638.6 966.0,637.2 974.0,635.3 982.0,638.6 990.0,639.4 998.0,637.2 1006.0,627.8 1014.0,628.4 1022.0,632.7 1030.0,637.2 1038.0,635.9 1046.0,645.3 1054.0,645.3 1062.0,643.9 1070.0,644.5 1078.0,647.4 1086.0,638.6 1094.0,639.4 1102.0,638.0 1110.0,636.4 1118.0,638.0 1126.0,634.5 1134.0,642.6 1142.0,649.3 1150.0,647.9 1158.0,646.6 1166.0,644.5 1174.0,628.4 1182.0,629.2 1190.0,620.4 1198.0,620.4 1206.0,621.2 1214.0,618.5 1222.0,622.5 1230.0,623.3 1238.0,623.3 1246.0,626.5 1254.0,624.6 1262.0,621.2" fill="none" stroke="#1e90ff" stroke-width="1" shape-rendering="crispEdges"/>
</svg>
<text x="10.1" y="596" font-size="10" fill="#000" stroke="#000" stroke-width="0.3" textLength="31.8" lengthAdjust="spacingAndGlyphs" >RSI(14)</text>
<text x="44.8" y="596" font-size="10" fill="#000" stroke="#000" stroke-width="0.3" textLength="32.9" lengthAdjust="spacingAndGlyphs" >63.0307</text>
<text x="1602.5" y="594" font-size="9.8" fill="#000" stroke="#000" stroke-width="0.3" textLength="14.5" lengthAdjust="spacingAndGlyphs" >100</text>
<text x="1602" y="618" font-size="9.8" fill="#000" stroke="#000" stroke-width="0.3" textLength="10" lengthAdjust="spacingAndGlyphs" >70</text>
<text x="1602" y="658" font-size="9.8" fill="#000" stroke="#000" stroke-width="0.3" textLength="10" lengthAdjust="spacingAndGlyphs" >30</text>
<text x="1602" y="682" font-size="9.8" fill="#000" stroke="#000" stroke-width="0.3" textLength="5" lengthAdjust="spacingAndGlyphs" >0</text>
<rect x="1599" y="585" width="2" height="1" fill="#000000"/>
<rect x="1599" y="614" width="2" height="1" fill="#000000"/>
<rect x="1599" y="654" width="2" height="1" fill="#000000"/>
<rect x="1599" y="684" width="2" height="1" fill="#000000"/>
<g shape-rendering="crispEdges">
<rect x="6" y="746" width="1" height="14" fill="#c0c0c0"/>
<rect x="14" y="745" width="1" height="15" fill="#c0c0c0"/>
<rect x="22" y="742" width="1" height="18" fill="#c0c0c0"/>
<rect x="30" y="741" width="1" height="19" fill="#c0c0c0"/>
<rect x="38" y="740" width="1" height="20" fill="#c0c0c0"/>
<rect x="46" y="738" width="1" height="22" fill="#c0c0c0"/>
<rect x="54" y="739" width="1" height="21" fill="#c0c0c0"/>
<rect x="62" y="738" width="1" height="22" fill="#c0c0c0"/>
<rect x="70" y="736" width="1" height="24" fill="#c0c0c0"/>
<rect x="78" y="736" width="1" height="24" fill="#c0c0c0"/>
<rect x="86" y="733" width="1" height="27" fill="#c0c0c0"/>
<rect x="94" y="732" width="1" height="28" fill="#c0c0c0"/>
<rect x="102" y="731" width="1" height="29" fill="#c0c0c0"/>
<rect x="110" y="726" width="1" height="34" fill="#c0c0c0"/>
<rect x="118" y="719" width="1" height="41" fill="#c0c0c0"/>
<rect x="126" y="711" width="1" height="49" fill="#c0c0c0"/>
<rect x="134" y="705" width="1" height="55" fill="#c0c0c0"/>
<rect x="142" y="700" width="1" height="60" fill="#c0c0c0"/>
<rect x="150" y="698" width="1" height="62" fill="#c0c0c0"/>
<rect x="158" y="697" width="1" height="63" fill="#c0c0c0"/>
<rect x="166" y="695" width="1" height="65" fill="#c0c0c0"/>
<rect x="174" y="694" width="1" height="66" fill="#c0c0c0"/>
<rect x="182" y="698" width="1" height="62" fill="#c0c0c0"/>
<rect x="190" y="704" width="1" height="56" fill="#c0c0c0"/>
<rect x="198" y="709" width="1" height="51" fill="#c0c0c0"/>
<rect x="206" y="714" width="1" height="46" fill="#c0c0c0"/>
<rect x="214" y="717" width="1" height="43" fill="#c0c0c0"/>
<rect x="222" y="719" width="1" height="41" fill="#c0c0c0"/>
<rect x="230" y="723" width="1" height="37" fill="#c0c0c0"/>
<rect x="238" y="726" width="1" height="34" fill="#c0c0c0"/>
<rect x="246" y="730" width="1" height="30" fill="#c0c0c0"/>
<rect x="254" y="730" width="1" height="30" fill="#c0c0c0"/>
<rect x="262" y="729" width="1" height="31" fill="#c0c0c0"/>
<rect x="270" y="732" width="1" height="28" fill="#c0c0c0"/>
<rect x="278" y="735" width="1" height="25" fill="#c0c0c0"/>
<rect x="286" y="737" width="1" height="23" fill="#c0c0c0"/>
<rect x="294" y="739" width="1" height="21" fill="#c0c0c0"/>
<rect x="302" y="742" width="1" height="18" fill="#c0c0c0"/>
<rect x="310" y="742" width="1" height="18" fill="#c0c0c0"/>
<rect x="318" y="742" width="1" height="18" fill="#c0c0c0"/>
<rect x="326" y="742" width="1" height="18" fill="#c0c0c0"/>
<rect x="334" y="741" width="1" height="19" fill="#c0c0c0"/>
<rect x="342" y="741" width="1" height="19" fill="#c0c0c0"/>
<rect x="350" y="741" width="1" height="19" fill="#c0c0c0"/>
<rect x="358" y="739" width="1" height="21" fill="#c0c0c0"/>
<rect x="366" y="739" width="1" height="21" fill="#c0c0c0"/>
<rect x="374" y="740" width="1" height="20" fill="#c0c0c0"/>
<rect x="382" y="740" width="1" height="20" fill="#c0c0c0"/>
<rect x="390" y="741" width="1" height="19" fill="#c0c0c0"/>
<rect x="398" y="741" width="1" height="19" fill="#c0c0c0"/>
<rect x="406" y="741" width="1" height="19" fill="#c0c0c0"/>
<rect x="414" y="741" width="1" height="19" fill="#c0c0c0"/>
<rect x="422" y="740" width="1" height="20" fill="#c0c0c0"/>
<rect x="430" y="741" width="1" height="19" fill="#c0c0c0"/>
<rect x="438" y="741" width="1" height="19" fill="#c0c0c0"/>
<rect x="446" y="741" width="1" height="19" fill="#c0c0c0"/>
<rect x="454" y="737" width="1" height="23" fill="#c0c0c0"/>
<rect x="462" y="734" width="1" height="26" fill="#c0c0c0"/>
<rect x="470" y="731" width="1" height="29" fill="#c0c0c0"/>
<rect x="478" y="731" width="1" height="29" fill="#c0c0c0"/>
<rect x="486" y="732" width="1" height="28" fill="#c0c0c0"/>
<rect x="494" y="731" width="1" height="29" fill="#c0c0c0"/>
<rect x="502" y="729" width="1" height="31" fill="#c0c0c0"/>
<rect x="510" y="728" width="1" height="32" fill="#c0c0c0"/>
<rect x="518" y="729" width="1" height="31" fill="#c0c0c0"/>
<rect x="526" y="729" width="1" height="31" fill="#c0c0c0"/>
<rect x="534" y="729" width="1" height="31" fill="#c0c0c0"/>
<rect x="542" y="733" width="1" height="27" fill="#c0c0c0"/>
<rect x="550" y="734" width="1" height="26" fill="#c0c0c0"/>
<rect x="558" y="732" width="1" height="28" fill="#c0c0c0"/>
<rect x="566" y="730" width="1" height="30" fill="#c0c0c0"/>
<rect x="574" y="732" width="1" height="28" fill="#c0c0c0"/>
<rect x="582" y="734" width="1" height="26" fill="#c0c0c0"/>
<rect x="590" y="736" width="1" height="24" fill="#c0c0c0"/>
<rect x="598" y="738" width="1" height="22" fill="#c0c0c0"/>
<rect x="606" y="739" width="1" height="21" fill="#c0c0c0"/>
<rect x="614" y="740" width="1" height="20" fill="#c0c0c0"/>
<rect x="622" y="741" width="1" height="19" fill="#c0c0c0"/>
<rect x="630" y="742" width="1" height="18" fill="#c0c0c0"/>
<rect x="638" y="741" width="1" height="19" fill="#c0c0c0"/>
<rect x="646" y="740" width="1" height="20" fill="#c0c0c0"/>
<rect x="654" y="740" width="1" height="20" fill="#c0c0c0"/>
<rect x="662" y="741" width="1" height="19" fill="#c0c0c0"/>
<rect x="670" y="744" width="1" height="16" fill="#c0c0c0"/>
<rect x="678" y="746" width="1" height="14" fill="#c0c0c0"/>
<rect x="686" y="747" width="1" height="13" fill="#c0c0c0"/>
<rect x="694" y="748" width="1" height="12" fill="#c0c0c0"/>
<rect x="702" y="747" width="1" height="13" fill="#c0c0c0"/>
<rect x="710" y="745" width="1" height="15" fill="#c0c0c0"/>
<rect x="718" y="741" width="1" height="19" fill="#c0c0c0"/>
<rect x="726" y="737" width="1" height="23" fill="#c0c0c0"/>
<rect x="734" y="733" width="1" height="27" fill="#c0c0c0"/>
<rect x="742" y="731" width="1" height="29" fill="#c0c0c0"/>
<rect x="750" y="731" width="1" height="29" fill="#c0c0c0"/>
<rect x="758" y="734" width="1" height="26" fill="#c0c0c0"/>
<rect x="766" y="737" width="1" height="23" fill="#c0c0c0"/>
<rect x="774" y="738" width="1" height="22" fill="#c0c0c0"/>
<rect x="782" y="740" width="1" height="20" fill="#c0c0c0"/>
<rect x="790" y="743" width="1" height="17" fill="#c0c0c0"/>
<rect x="798" y="745" width="1" height="15" fill="#c0c0c0"/>
<rect x="806" y="745" width="1" height="15" fill="#c0c0c0"/>
<rect x="814" y="746" width="1" height="14" fill="#c0c0c0"/>
<rect x="822" y="748" width="1" height="12" fill="#c0c0c0"/>
<rect x="830" y="748" width="1" height="12" fill="#c0c0c0"/>
<rect x="838" y="748" width="1" height="12" fill="#c0c0c0"/>
<rect x="846" y="747" width="1" height="13" fill="#c0c0c0"/>
<rect x="854" y="748" width="1" height="12" fill="#c0c0c0"/>
<rect x="862" y="748" width="1" height="12" fill="#c0c0c0"/>
<rect x="870" y="749" width="1" height="11" fill="#c0c0c0"/>
<rect x="878" y="753" width="1" height="7" fill="#c0c0c0"/>
<rect x="886" y="757" width="1" height="3" fill="#c0c0c0"/>
<rect x="894" y="760" width="1" height="4" fill="#c0c0c0"/>
<rect x="902" y="760" width="1" height="11" fill="#c0c0c0"/>
<rect x="910" y="760" width="1" height="18" fill="#c0c0c0"/>
<rect x="918" y="760" width="1" height="22" fill="#c0c0c0"/>
<rect x="926" y="760" width="1" height="24" fill="#c0c0c0"/>
<rect x="934" y="760" width="1" height="23" fill="#c0c0c0"/>
<rect x="942" y="760" width="1" height="21" fill="#c0c0c0"/>
<rect x="950" y="760" width="1" height="17" fill="#c0c0c0"/>
<rect x="958" y="760" width="1" height="16" fill="#c0c0c0"/>
<rect x="966" y="760" width="1" height="15" fill="#c0c0c0"/>
<rect x="974" y="760" width="1" height="12" fill="#c0c0c0"/>
<rect x="982" y="760" width="1" height="11" fill="#c0c0c0"/>
<rect x="990" y="760" width="1" height="11" fill="#c0c0c0"/>
<rect x="998" y="760" width="1" height="9" fill="#c0c0c0"/>
<rect x="1006" y="760" width="1" height="6" fill="#c0c0c0"/>
<rect x="1014" y="760" width="1" height="3" fill="#c0c0c0"/>
<rect x="1022" y="760" width="1" height="2" fill="#c0c0c0"/>
<rect x="1030" y="760" width="1" height="2" fill="#c0c0c0"/>
<rect x="1038" y="760" width="1" height="2" fill="#c0c0c0"/>
<rect x="1046" y="760" width="1" height="6" fill="#c0c0c0"/>
<rect x="1054" y="760" width="1" height="8" fill="#c0c0c0"/>
<rect x="1062" y="760" width="1" height="10" fill="#c0c0c0"/>
<rect x="1070" y="760" width="1" height="11" fill="#c0c0c0"/>
<rect x="1078" y="760" width="1" height="14" fill="#c0c0c0"/>
<rect x="1086" y="760" width="1" height="12" fill="#c0c0c0"/>
<rect x="1094" y="760" width="1" height="11" fill="#c0c0c0"/>
<rect x="1102" y="760" width="1" height="10" fill="#c0c0c0"/>
<rect x="1110" y="760" width="1" height="10" fill="#c0c0c0"/>
<rect x="1118" y="760" width="1" height="9" fill="#c0c0c0"/>
<rect x="1126" y="760" width="1" height="8" fill="#c0c0c0"/>
<rect x="1134" y="760" width="1" height="9" fill="#c0c0c0"/>
<rect x="1142" y="760" width="1" height="12" fill="#c0c0c0"/>
<rect x="1150" y="760" width="1" height="14" fill="#c0c0c0"/>
<rect x="1158" y="760" width="1" height="16" fill="#c0c0c0"/>
<rect x="1166" y="760" width="1" height="15" fill="#c0c0c0"/>
<rect x="1174" y="760" width="1" height="11" fill="#c0c0c0"/>
<rect x="1182" y="760" width="1" height="8" fill="#c0c0c0"/>
<rect x="1198" y="755" width="1" height="5" fill="#c0c0c0"/>
<rect x="1206" y="751" width="1" height="9" fill="#c0c0c0"/>
<rect x="1214" y="747" width="1" height="13" fill="#c0c0c0"/>
<rect x="1222" y="744" width="1" height="16" fill="#c0c0c0"/>
<rect x="1230" y="743" width="1" height="17" fill="#c0c0c0"/>
<rect x="1238" y="742" width="1" height="18" fill="#c0c0c0"/>
<rect x="1246" y="742" width="1" height="18" fill="#c0c0c0"/>
<rect x="1254" y="742" width="1" height="18" fill="#c0c0c0"/>
<rect x="1262" y="741" width="1" height="19" fill="#c0c0c0"/>
</g>
<svg x="6" y="688" width="1592" height="100" viewBox="6 688 1592 100" overflow="hidden">
<polyline points="6.0,736.2 14.0,737.3 22.0,738.4 30.0,739.0 38.0,739.6 46.0,739.9 54.0,740.1 62.0,739.9 70.0,738.7 78.0,737.5 86.0,736.6 94.0,735.8 102.0,734.7 110.0,732.8 118.0,730.5 126.0,727.0 134.0,723.5 142.0,720.0 150.0,716.4 158.0,712.4 166.0,708.4 174.0,703.8 182.0,700.0 190.0,699.7 198.0,699.5 206.0,700.1 214.0,701.4 222.0,704.6 230.0,707.7 238.0,711.2 246.0,714.9 254.0,718.1 262.0,720.8 270.0,723.5 278.0,725.8 286.0,728.0 294.0,730.2 302.0,732.3 310.0,734.1 318.0,735.8 326.0,737.2 334.0,738.4 342.0,739.3 350.0,740.2 358.0,740.1 366.0,740.0 374.0,739.9 382.0,739.8 390.0,739.9 398.0,739.9 406.0,740.0 414.0,740.0 422.0,740.1 430.0,740.1 438.0,740.2 446.0,740.2 454.0,740.2 462.0,739.4 470.0,738.3 478.0,737.1 486.0,735.9 494.0,734.6 502.0,733.3 510.0,731.9 518.0,730.9 526.0,729.8 534.0,729.3 542.0,729.6 550.0,729.9 558.0,730.1 566.0,730.2 574.0,730.4 582.0,730.7 590.0,731.5 598.0,732.3 606.0,733.3 614.0,734.3 622.0,735.3 630.0,735.9 638.0,736.5 646.0,737.2 654.0,738.2 662.0,739.4 670.0,740.2 678.0,741.0 686.0,741.7 694.0,742.3 702.0,742.8 710.0,743.0 718.0,743.1 726.0,743.0 734.0,741.8 742.0,740.6 750.0,739.5 758.0,738.5 766.0,737.0 774.0,735.6 782.0,735.6 790.0,735.6 798.0,735.8 806.0,737.1 814.0,738.6 822.0,740.8 830.0,742.3 838.0,743.7 846.0,744.7 854.0,745.5 862.0,746.2 870.0,746.7 878.0,747.1 886.0,748.7 894.0,751.0 902.0,753.7 910.0,756.7 918.0,760.2 926.0,763.7 934.0,767.7 942.0,771.6 950.0,773.9 958.0,776.1 966.0,778.4 974.0,778.0 982.0,777.5 990.0,775.9 998.0,773.9 1006.0,772.2 1014.0,770.5 1022.0,769.0 1030.0,767.6 1038.0,766.2 1046.0,765.7 1054.0,765.5 1062.0,765.3 1070.0,765.3 1078.0,766.3 1086.0,767.4 1094.0,768.4 1102.0,769.4 1110.0,769.8 1118.0,770.2 1126.0,770.4 1134.0,770.4 1142.0,770.5 1150.0,770.6 1158.0,770.7 1166.0,770.7 1174.0,770.7 1182.0,770.6 1190.0,769.6 1198.0,768.0 1206.0,765.8 1214.0,763.4 1222.0,760.8 1230.0,756.9 1238.0,753.0 1246.0,749.6 1254.0,746.8 1262.0,744.3" fill="none" stroke="#ff0000" stroke-width="1" stroke-dasharray="3,2" shape-rendering="crispEdges"/>
</svg>
<text x="10" y="700" font-size="10" fill="#000" stroke="#000" stroke-width="0.3" textLength="65.9" lengthAdjust="spacingAndGlyphs" >MACD(12,26,9)</text>
<text x="79.3" y="700" font-size="10" fill="#000" stroke="#000" stroke-width="0.3" textLength="37.2" lengthAdjust="spacingAndGlyphs" >0.003979</text>
<text x="120.1" y="700" font-size="10" fill="#000" stroke="#000" stroke-width="0.3" textLength="37.6" lengthAdjust="spacingAndGlyphs" >0.003122</text>
<text x="1602" y="698" font-size="9.8" fill="#000" stroke="#000" stroke-width="0.3" textLength="37" lengthAdjust="spacingAndGlyphs" >0.014861</text>
<text x="1602" y="763" font-size="9.8" fill="#000" stroke="#000" stroke-width="0.3" textLength="18" lengthAdjust="spacingAndGlyphs" >0.00</text>
<text x="1602" y="785" font-size="9.8" fill="#000" stroke="#000" stroke-width="0.3" textLength="42" lengthAdjust="spacingAndGlyphs" >-0.005938</text>
<rect x="1599" y="689" width="2" height="1" fill="#000000"/>
<rect x="1599" y="759" width="2" height="1" fill="#000000"/>
<rect x="1599" y="786" width="2" height="1" fill="#000000"/>
<rect x="6" y="789" width="1" height="3" fill="#000000"/>
<text x="5.6" y="801" font-size="9.2" fill="#000" stroke="#000" stroke-width="0.3" textLength="54.4" lengthAdjust="spacingAndGlyphs" >16 May 2020</text>
<rect x="70" y="789" width="1" height="3" fill="#000000"/>
<text x="69.6" y="801" font-size="9.2" fill="#000" stroke="#000" stroke-width="0.3" textLength="55" lengthAdjust="spacingAndGlyphs" >26 May 2020</text>
<rect x="134" y="789" width="1" height="3" fill="#000000"/>
<text x="133.6" y="801" font-size="9.2" fill="#000" stroke="#000" stroke-width="0.3" textLength="44.7" lengthAdjust="spacingAndGlyphs" >4 Jun 2020</text>
<rect x="198" y="789" width="1" height="3" fill="#000000"/>
<text x="197.6" y="801" font-size="9.2" fill="#000" stroke="#000" stroke-width="0.3" textLength="49.4" lengthAdjust="spacingAndGlyphs" >13 Jun 2020</text>
<rect x="262" y="789" width="1" height="3" fill="#000000"/>
<text x="261.6" y="801" font-size="9.2" fill="#000" stroke="#000" stroke-width="0.3" textLength="49.4" lengthAdjust="spacingAndGlyphs" >23 Jun 2020</text>
<rect x="326" y="789" width="1" height="3" fill="#000000"/>
<text x="325.6" y="801" font-size="9.2" fill="#000" stroke="#000" stroke-width="0.3" textLength="41.6" lengthAdjust="spacingAndGlyphs" >2 Jul 2020</text>
<rect x="390" y="789" width="1" height="3" fill="#000000"/>
<text x="389.6" y="801" font-size="9.2" fill="#000" stroke="#000" stroke-width="0.3" textLength="46" lengthAdjust="spacingAndGlyphs" >11 Jul 2020</text>
<rect x="454" y="789" width="1" height="3" fill="#000000"/>
<text x="453.6" y="801" font-size="9.2" fill="#000" stroke="#000" stroke-width="0.3" textLength="46.5" lengthAdjust="spacingAndGlyphs" >21 Jul 2020</text>
<rect x="518" y="789" width="1" height="3" fill="#000000"/>
<text x="517.6" y="801" font-size="9.2" fill="#000" stroke="#000" stroke-width="0.3" textLength="46.5" lengthAdjust="spacingAndGlyphs" >30 Jul 2020</text>
<rect x="582" y="789" width="1" height="3" fill="#000000"/>
<text x="581.6" y="801" font-size="9.2" fill="#000" stroke="#000" stroke-width="0.3" textLength="47.6" lengthAdjust="spacingAndGlyphs" >8 Aug 2020</text>
<rect x="646" y="789" width="1" height="3" fill="#000000"/>
<text x="645.6" y="801" font-size="9.2" fill="#000" stroke="#000" stroke-width="0.3" textLength="52.3" lengthAdjust="spacingAndGlyphs" >18 Aug 2020</text>
<rect x="710" y="789" width="1" height="3" fill="#000000"/>
<text x="709.6" y="801" font-size="9.2" fill="#000" stroke="#000" stroke-width="0.3" textLength="52.3" lengthAdjust="spacingAndGlyphs" >27 Aug 2020</text>
<rect x="774" y="789" width="1" height="3" fill="#000000"/>
<text x="773.6" y="801" font-size="9.2" fill="#000" stroke="#000" stroke-width="0.3" textLength="46.2" lengthAdjust="spacingAndGlyphs" >5 Sep 2020</text>
<rect x="838" y="789" width="1" height="3" fill="#000000"/>
<text x="837.6" y="801" font-size="9.2" fill="#000" stroke="#000" stroke-width="0.3" textLength="51.8" lengthAdjust="spacingAndGlyphs" >15 Sep 2020</text>
<rect x="902" y="789" width="1" height="3" fill="#000000"/>
<text x="901.6" y="801" font-size="9.2" fill="#000" stroke="#000" stroke-width="0.3" textLength="51.8" lengthAdjust="spacingAndGlyphs" >24 Sep 2020</text>
<rect x="966" y="789" width="1" height="3" fill="#000000"/>
<text x="965.6" y="801" font-size="9.2" fill="#000" stroke="#000" stroke-width="0.3" textLength="46.2" lengthAdjust="spacingAndGlyphs" >3 Oct 2020</text>
<rect x="1030" y="789" width="1" height="3" fill="#000000"/>
<text x="1029.6" y="801" font-size="9.2" fill="#000" stroke="#000" stroke-width="0.3" textLength="50.7" lengthAdjust="spacingAndGlyphs" >13 Oct 2020</text>
<rect x="1094" y="789" width="1" height="3" fill="#000000"/>
<text x="1093.6" y="801" font-size="9.2" fill="#000" stroke="#000" stroke-width="0.3" textLength="50.9" lengthAdjust="spacingAndGlyphs" >22 Oct 2020</text>
<rect x="1158" y="789" width="1" height="3" fill="#000000"/>
<text x="1157.6" y="801" font-size="9.2" fill="#000" stroke="#000" stroke-width="0.3" textLength="51" lengthAdjust="spacingAndGlyphs" >31 Oct 2020</text>
<rect x="1222" y="789" width="1" height="3" fill="#000000"/>
<text x="1221.6" y="801" font-size="9.2" fill="#000" stroke="#000" stroke-width="0.3" textLength="53.7" lengthAdjust="spacingAndGlyphs" >10 Nov 2020</text>
<rect x="0" y="809" width="1643" height="1" fill="#e3e3e3"/>
<rect x="0" y="812" width="1643" height="18" fill="#f0f0f0"/>
<rect x="1" y="811" width="1642" height="1" fill="#000000"/>
<rect x="2" y="812" width="1" height="18" fill="#6e6e6e"/>
<rect x="212" y="810" width="102" height="19" fill="#ffffff"/>
<rect x="211" y="811" width="1" height="19" fill="#000000"/>
<rect x="314" y="811" width="1" height="19" fill="#000000"/>
<rect x="211" y="829" width="104" height="1" fill="#000000"/>
<text x="19.6" y="826" font-size="12.3" fill="#6d6d6d" textLength="79.6" lengthAdjust="spacingAndGlyphs" >EURUSD,Daily</text>
<text x="121" y="826" font-size="12.3" fill="#6d6d6d" textLength="79" lengthAdjust="spacingAndGlyphs" >USDCHF,Daily</text>
<text x="222.8" y="826" font-size="12.3" fill="#000000" textLength="81" lengthAdjust="spacingAndGlyphs" >AUDUSD,Daily</text>
<text x="326.5" y="826" font-size="12.3" fill="#6d6d6d" textLength="80.5" lengthAdjust="spacingAndGlyphs" >USDCAD,Daily</text>
<text x="429" y="826" font-size="12.3" fill="#6d6d6d" textLength="83" lengthAdjust="spacingAndGlyphs" >USDCNH,Daily</text>
<text x="535.5" y="826" font-size="12.3" fill="#6d6d6d" textLength="79" lengthAdjust="spacingAndGlyphs" >EURUSD,Daily</text>
<text x="639.4" y="826" font-size="12.3" fill="#6d6d6d" textLength="67.6" lengthAdjust="spacingAndGlyphs" >GBPUSD,H4</text>
<text x="730" y="826" font-size="12.3" fill="#6d6d6d" textLength="81.3" lengthAdjust="spacingAndGlyphs" >XAUUSD,Daily</text>
<text x="834" y="826" font-size="12.3" fill="#6d6d6d" textLength="49.4" lengthAdjust="spacingAndGlyphs" >HK50,H1</text>
<text x="906.4" y="826" font-size="12.3" fill="#6d6d6d" textLength="56" lengthAdjust="spacingAndGlyphs" >UK100,H1</text>
<text x="986.2" y="826" font-size="12.3" fill="#6d6d6d" textLength="56.2" lengthAdjust="spacingAndGlyphs" >UK100,H1</text>
<text x="1066" y="826" font-size="12.3" fill="#6d6d6d" textLength="56.4" lengthAdjust="spacingAndGlyphs" >GER30,H1</text>
<text x="1145" y="826" font-size="12.3" fill="#6d6d6d" textLength="54.6" lengthAdjust="spacingAndGlyphs" >FRA40,H1</text>
<text x="1221" y="826" font-size="12.3" fill="#6d6d6d" textLength="51" lengthAdjust="spacingAndGlyphs" >USOil,H4</text>
<text x="1293" y="826" font-size="12.3" fill="#6d6d6d" textLength="62.5" lengthAdjust="spacingAndGlyphs" >USDJPY,H1</text>
<text x="1377.4" y="826" font-size="12.3" fill="#6d6d6d" textLength="58.6" lengthAdjust="spacingAndGlyphs" >DJ30,Daily</text>
<text x="1457.2" y="826" font-size="12.3" fill="#6d6d6d" textLength="78.3" lengthAdjust="spacingAndGlyphs" >CHINA300,H1</text>
<text x="1557.4" y="826" font-size="12.3" fill="#6d6d6d" textLength="50.1" lengthAdjust="spacingAndGlyphs" >USOil,H1</text>
<rect x="111" y="814" width="1" height="14" fill="#404040"/>
<rect x="419" y="814" width="1" height="14" fill="#404040"/>
<rect x="523" y="814" width="1" height="14" fill="#404040"/>
<rect x="627" y="814" width="1" height="14" fill="#404040"/>
<rect x="719" y="814" width="1" height="14" fill="#404040"/>
<rect x="822" y="814" width="1" height="14" fill="#404040"/>
<rect x="895" y="814" width="1" height="14" fill="#404040"/>
<rect x="975" y="814" width="1" height="14" fill="#404040"/>
<rect x="1055" y="814" width="1" height="14" fill="#404040"/>
<rect x="1135" y="814" width="1" height="14" fill="#404040"/>
<rect x="1211" y="814" width="1" height="14" fill="#404040"/>
<rect x="1283" y="814" width="1" height="14" fill="#404040"/>
<rect x="1367" y="814" width="1" height="14" fill="#404040"/>
<rect x="1447" y="814" width="1" height="14" fill="#404040"/>
<rect x="1547" y="814" width="1" height="14" fill="#404040"/>
<path d="M1617 817 L1617 823 L1614 820 Z" fill="#a0a0a0"/>
<path d="M1633 817 L1633 823 L1636.5 820 Z" fill="#000000"/>
</svg>
</body></html>
